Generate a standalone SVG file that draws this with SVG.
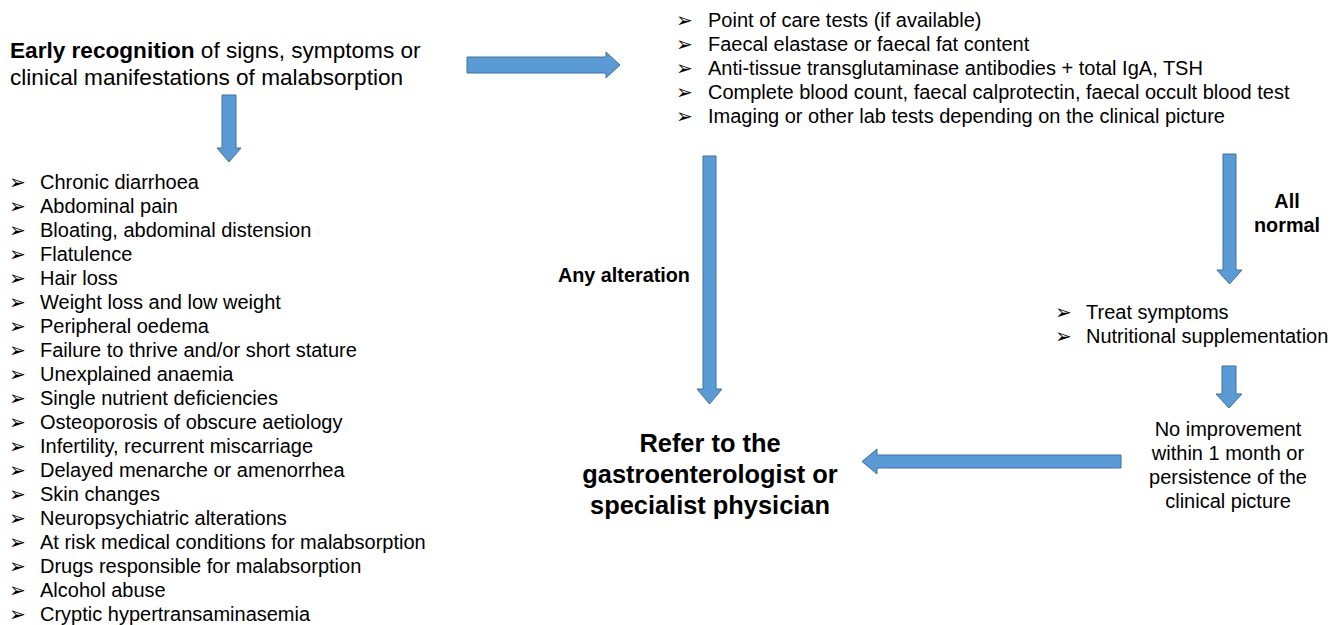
<svg xmlns="http://www.w3.org/2000/svg" width="1340" height="625" viewBox="0 0 1340 625">
<style>
text{font-family:"Liberation Sans",Arial,sans-serif;fill:#000}
.t{font-size:20px}
.b{font-size:20px;font-family:"DejaVu Sans",sans-serif}
.h{font-size:22.6px}
.lbl{font-size:19.8px;font-weight:bold}
.ref{font-size:25.4px;font-weight:bold}
.arr{fill:#5B9BD5;stroke:#41719C;stroke-width:1}
</style>
<rect width="1340" height="625" fill="#fff"/>
<g id="early">
<text class="h" x="10" y="58"><tspan font-weight="bold">Early recognition</tspan> of signs, symptoms or</text>
<text class="h" x="10" y="85">clinical manifestations of malabsorption</text>
</g>
<g id="tests">
<text class="b" x="676" y="27">➢</text><text class="t" x="708" y="27">Point of care tests (if available)</text>
<text class="b" x="676" y="51">➢</text><text class="t" x="708" y="51">Faecal elastase or faecal fat content</text>
<text class="b" x="676" y="75">➢</text><text class="t" x="708" y="75">Anti-tissue transglutaminase antibodies + total IgA, TSH</text>
<text class="b" x="676" y="99">➢</text><text class="t" x="708" y="99">Complete blood count, faecal calprotectin, faecal occult blood test</text>
<text class="b" x="676" y="123">➢</text><text class="t" x="708" y="123">Imaging or other lab tests depending on the clinical picture</text>
</g>
<g id="symptoms">
<text class="b" x="9" y="189">➢</text><text class="t" x="40" y="189">Chronic diarrhoea</text>
<text class="b" x="9" y="213">➢</text><text class="t" x="40" y="213">Abdominal pain</text>
<text class="b" x="9" y="237">➢</text><text class="t" x="40" y="237">Bloating, abdominal distension</text>
<text class="b" x="9" y="261">➢</text><text class="t" x="40" y="261">Flatulence</text>
<text class="b" x="9" y="285">➢</text><text class="t" x="40" y="285">Hair loss</text>
<text class="b" x="9" y="309">➢</text><text class="t" x="40" y="309">Weight loss and low weight</text>
<text class="b" x="9" y="333">➢</text><text class="t" x="40" y="333">Peripheral oedema</text>
<text class="b" x="9" y="357">➢</text><text class="t" x="40" y="357">Failure to thrive and/or short stature</text>
<text class="b" x="9" y="381">➢</text><text class="t" x="40" y="381">Unexplained anaemia</text>
<text class="b" x="9" y="405">➢</text><text class="t" x="40" y="405">Single nutrient deficiencies</text>
<text class="b" x="9" y="429">➢</text><text class="t" x="40" y="429">Osteoporosis of obscure aetiology</text>
<text class="b" x="9" y="453">➢</text><text class="t" x="40" y="453">Infertility, recurrent miscarriage</text>
<text class="b" x="9" y="477">➢</text><text class="t" x="40" y="477">Delayed menarche or amenorrhea</text>
<text class="b" x="9" y="501">➢</text><text class="t" x="40" y="501">Skin changes</text>
<text class="b" x="9" y="525">➢</text><text class="t" x="40" y="525">Neuropsychiatric alterations</text>
<text class="b" x="9" y="549">➢</text><text class="t" x="40" y="549">At risk medical conditions for malabsorption</text>
<text class="b" x="9" y="573">➢</text><text class="t" x="40" y="573">Drugs responsible for malabsorption</text>
<text class="b" x="9" y="597">➢</text><text class="t" x="40" y="597">Alcohol abuse</text>
<text class="b" x="9" y="621">➢</text><text class="t" x="40" y="621">Cryptic hypertransaminasemia</text>
</g>
<g id="treat">
<text class="b" x="1055" y="319">➢</text><text class="t" x="1086" y="319">Treat symptoms</text>
<text class="b" x="1055" y="343">➢</text><text class="t" x="1086" y="343">Nutritional supplementation</text>
</g>
<g id="noimprove" text-anchor="middle">
<text class="t" x="1228" y="436">No improvement</text>
<text class="t" x="1228" y="460">within 1 month or</text>
<text class="t" x="1228" y="484">persistence of the</text>
<text class="t" x="1228" y="508">clinical picture</text>
</g>
<g id="refer" text-anchor="middle">
<text class="ref" x="710" y="452">Refer to the</text>
<text class="ref" x="710" y="483">gastroenterologist or</text>
<text class="ref" x="710" y="514">specialist physician</text>
</g>
<g id="connectors">
<path class="arr" d="M467,57 H606 V52 L620,65 L606,78 V73 H467 Z"/>
<path class="arr" d="M222,95 H236 V148 H241 L229,162 L217,148 H222 Z"/>
<path class="arr" d="M703,156 H716 V389 H722 L709.5,404 L697,389 H703 Z"/>
<path class="arr" d="M1223,154 H1236 V270 H1242 L1229.5,284 L1217,270 H1223 Z"/>
<path class="arr" d="M1222,366 H1236 V394 H1242 L1229,408 L1216,394 H1222 Z"/>
<path class="arr" d="M1121,455 H877 V449 L862,461.5 L877,474 V468 H1121 Z"/>
<text class="lbl" x="558" y="282">Any alteration</text>
<text class="lbl" x="1287" y="208" text-anchor="middle">All</text>
<text class="lbl" x="1287" y="232" text-anchor="middle">normal</text>
</g>
</svg>
